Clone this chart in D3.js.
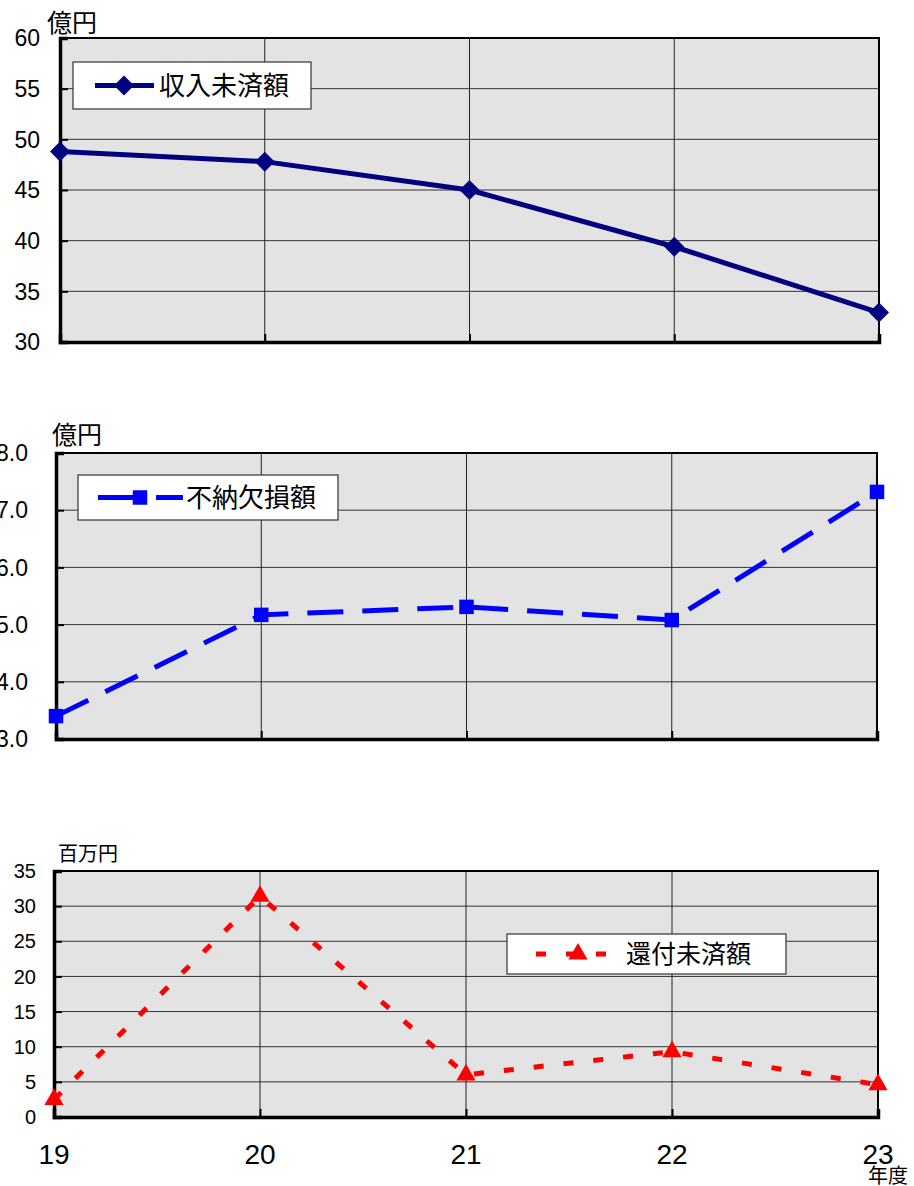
<!DOCTYPE html>
<html><head><meta charset="utf-8">
<script src="https://cdn.jsdelivr.net/npm/d3@7"></script>
<style>
html,body{margin:0;padding:0;background:#fff;}
svg{display:block;}
text{font-family:"Liberation Sans",Arial,sans-serif;fill:#000;}
.jp{font-family:"Noto Sans CJK JP","Noto Sans",sans-serif;}
</style></head>
<body>
<svg id="c" width="914" height="1186"></svg>
<script>
const years = ["19","20","21","22","23"];
const unpaidRevenue = [48.8, 47.8, 45.0, 39.4, 32.9];     // 収入未済額 (億円)
const deficitLoss = [3.40, 5.17, 5.31, 5.08, 7.32];      // 不納欠損額 (億円)
const refundUnpaid = [2.5, 31.4, 6.0, 9.3, 4.6];          // 還付未済額 (百万円)
const ticks1 = [30, 35, 40, 45, 50, 55, 60];
const ticks2 = [3.0, 4.0, 5.0, 6.0, 7.0, 8.0];
const ticks3 = [0, 5, 10, 15, 20, 25, 30, 35];

const svg = d3.select("#c");

function panel(cfg){
  const g = svg.append("g");
  const x = d3.scalePoint().domain(years).range([cfg.left, cfg.right]).padding(0);
  const y = d3.scaleLinear().domain(cfg.domain).range([cfg.bottom, cfg.top]);
  g.append("rect").attr("x", cfg.left).attr("y", cfg.top)
    .attr("width", cfg.right - cfg.left).attr("height", cfg.bottom - cfg.top)
    .attr("fill", "#e3e3e3");
  g.selectAll(".hg").data(cfg.ticks.slice(1, -1)).enter().append("line")
    .attr("x1", cfg.left).attr("x2", cfg.right)
    .attr("y1", d => y(d)).attr("y2", d => y(d))
    .attr("stroke", "#333").attr("stroke-width", 1);
  g.selectAll(".vg").data(years.slice(1, -1)).enter().append("line")
    .attr("x1", d => x(d)).attr("x2", d => x(d))
    .attr("y1", cfg.top).attr("y2", cfg.bottom)
    .attr("stroke", "#222").attr("stroke-width", 1);
  g.append("rect").attr("x", cfg.left).attr("y", cfg.top)
    .attr("width", cfg.right - cfg.left).attr("height", cfg.bottom - cfg.top)
    .attr("fill", "none").attr("stroke", "#000").attr("stroke-width", 2);
  const ya = d3.axisRight(y).tickValues(cfg.ticks).tickSize(8).tickFormat("");
  const yg = g.append("g").attr("transform", `translate(${cfg.left},0)`).call(ya);
  yg.select(".domain").attr("stroke-width", 3.5);
  yg.selectAll(".tick line").attr("stroke-width", 2);
  g.selectAll(".yl").data(cfg.ticks).enter().append("text")
    .attr("x", cfg.labelX).attr("y", d => y(d)).attr("dy", "0.36em")
    .attr("text-anchor", "end").attr("font-size", cfg.labelSize)
    .text(d => cfg.fmt(d));
  const xa = d3.axisTop(x).tickSize(8).tickFormat("");
  const xg = g.append("g").attr("transform", `translate(0,${cfg.bottom})`).call(xa);
  xg.select(".domain").attr("stroke-width", 3.5);
  xg.selectAll(".tick line").attr("stroke-width", 2);
  g.append("text").attr("class", "jp").attr("x", cfg.unitX).attr("y", cfg.unitY)
    .attr("font-size", cfg.unitSize).text(cfg.unit);
  const line = d3.line().x((d, i) => x(years[i])).y(d => y(d));
  g.append("path").datum(cfg.data).attr("d", line)
    .attr("fill", "none").attr("stroke", cfg.color).attr("stroke-width", cfg.lineW)
    .attr("stroke-dasharray", cfg.dash).attr("stroke-linejoin", "round");
  g.selectAll(".m").data(cfg.data).enter().append("path")
    .attr("transform", (d, i) => `translate(${x(years[i])},${y(d)}) rotate(${cfg.rot})`)
    .attr("d", d3.symbol().type(cfg.symbol).size(cfg.symSize)())
    .attr("fill", cfg.color);
  const L = cfg.legend;
  g.append("rect").attr("x", L.x).attr("y", L.y).attr("width", L.w).attr("height", L.h)
    .attr("fill", "#fff").attr("stroke", "#333").attr("stroke-width", 1.2);
  const cy = L.y + L.h / 2;
  g.append("line").attr("x1", L.lx1).attr("x2", L.lx2).attr("y1", cy).attr("y2", cy)
    .attr("stroke", cfg.color).attr("stroke-width", cfg.lineW)
    .attr("stroke-dasharray", L.dash);
  g.append("path").attr("transform", `translate(${L.mx},${cy}) rotate(${cfg.rot})`)
    .attr("d", d3.symbol().type(cfg.symbol).size(cfg.symSize)()).attr("fill", cfg.color);
  g.append("text").attr("class", "jp").attr("x", L.tx).attr("y", cy).attr("dy", "0.36em")
    .attr("font-size", L.fs).text(L.text);
  return x;
}

panel({left:60, right:879, top:38, bottom:342, domain:[30,60], ticks:ticks1,
  labelX:40, labelSize:23, fmt:d=>d3.format("d")(d),
  unit:"億円", unitX:47, unitY:32, unitSize:25,
  data:unpaidRevenue, color:"#000080", lineW:5, dash:null,
  symbol:d3.symbolSquare, symSize:200, rot:45,
  legend:{x:73, y:62, w:238, h:47, lx1:95, lx2:154, mx:124, tx:159, fs:26, text:"収入未済額", dash:null}
});

panel({left:56, right:877, top:453, bottom:739, domain:[3,8], ticks:ticks2,
  labelX:28, labelSize:23, fmt:d=>d3.format(".1f")(d),
  unit:"億円", unitX:52, unitY:444, unitSize:25,
  data:deficitLoss, color:"#0000ff", lineW:5, dash:"36,19",
  symbol:d3.symbolSquare, symSize:210, rot:0,
  legend:{x:78, y:475, w:260, h:45, lx1:98, lx2:183, mx:140, tx:186, fs:26, text:"不納欠損額", dash:"35,23"}
});

const xs = panel({left:54, right:878, top:871, bottom:1117, domain:[0,35], ticks:ticks3,
  labelX:36, labelSize:20, fmt:d=>d3.format("d")(d),
  unit:"百万円", unitX:58, unitY:861, unitSize:20,
  data:refundUnpaid, color:"#ff0000", lineW:5, dash:"10,20",
  symbol:d3.symbolTriangle, symSize:160, rot:0,
  legend:{x:507, y:934, w:279, h:40, lx1:536, lx2:607, mx:578, tx:626, fs:25, text:"還付未済額", dash:"10,20"}
});

svg.selectAll(".xl").data(years).enter().append("text")
  .attr("x", d => xs(d)).attr("y", 1164).attr("text-anchor", "middle")
  .attr("font-size", 28).text(d => d);
svg.append("text").attr("class", "jp").attr("x", 868).attr("y", 1183)
  .attr("font-size", 20).text("年度");
</script>
</body></html>
